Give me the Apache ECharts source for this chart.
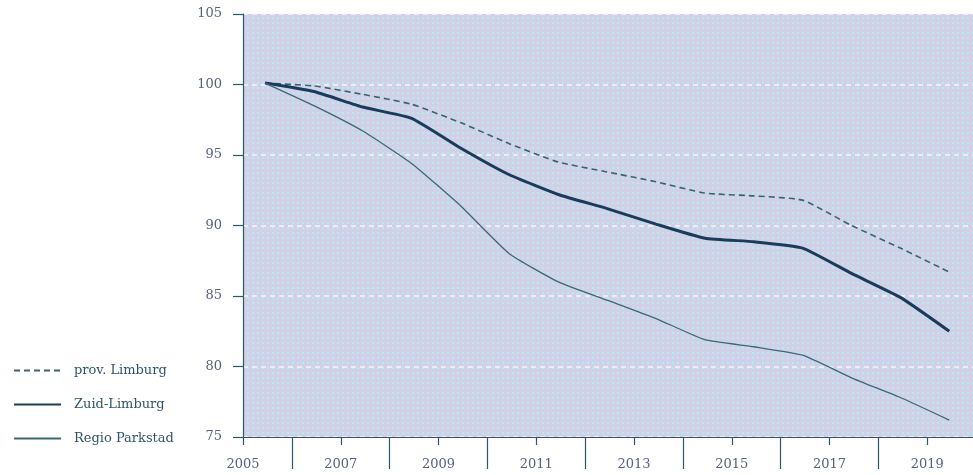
<!DOCTYPE html>
<html>
<head>
<meta charset="utf-8">
<script src="https://cdn.jsdelivr.net/npm/echarts@6/dist/echarts.min.js"></script>
<style>
html,body{margin:0;padding:0;background:#fff;}
#chart{width:973px;height:475px;}
</style>
</head>
<body>
<div id="chart"></div>
<script>
// Data
const years = [2005,2006,2007,2008,2009,2010,2011,2012,2013,2014,2015,2016,2017,2018,2019];
const provLimburg   = [100.1,99.9,99.3,98.6,97.3,95.8,94.5,93.8,93.1,92.3,92.1,91.8,90.0,88.4,86.7];
const zuidLimburg   = [100.1,99.5,98.4,97.6,95.5,93.6,92.2,91.2,90.1,89.1,88.85,88.4,86.6,84.9,82.5];
const regioParkstad = [100.1,98.5,96.7,94.4,91.4,88.0,86.0,84.7,83.4,81.9,81.4,80.8,79.2,77.8,76.2];
const seriesNames = ['prov. Limburg','Zuid-Limburg','Regio Parkstad'];
const yTicks = [75,80,85,90,95,100,105];

// values are mid-year observations
const MID = 0.45;
function pts(vals){ return years.map((y,i)=>[y+MID, vals[i]]); }

// dotted background pattern
const tile = document.createElement('canvas');
tile.width = 5; tile.height = 5;
const tc = tile.getContext('2d');
tc.fillStyle = '#d2d0e8'; tc.fillRect(0,0,5,5);
tc.fillStyle = '#b6ecec'; tc.fillRect(2,2,2,2);

const chart = echarts.init(document.getElementById('chart'), null, {renderer:'canvas'});
const font = 'DejaVu Serif';
chart.setOption({
  animation:false,
  grid:{left:243, top:14, right:-52, bottom:38, show:true, borderWidth:0,
        outerBoundsMode:'none', containLabel:false,
        backgroundColor:{image:tile, repeat:'repeat'}},
  legend:{
    orient:'vertical', left:8, top:359, itemWidth:47, itemHeight:14, itemGap:21,
    data:seriesNames,
    itemStyle:{opacity:0},
    textStyle:{color:'#2f5568', fontFamily:font, fontSize:13, padding:[0,0,0,8]}
  },
  xAxis:{
    type:'value', min:2005, max:2021, interval:2,
    axisLine:{show:true, lineStyle:{color:'#2e5868', width:1.2}},
    axisTick:{show:true, length:8, lineStyle:{color:'#2e5868', width:1.2}},
    minorTick:{show:true, splitNumber:2, length:32, lineStyle:{color:'#2e5868', width:1.2}},
    splitLine:{show:false},
    axisLabel:{color:'#56627e', fontFamily:font, fontSize:13, margin:21, formatter:v=>String(v)}
  },
  yAxis:{
    type:'value', min:yTicks[0], max:yTicks[yTicks.length-1], interval:5,
    axisLine:{show:true, lineStyle:{color:'#2e5868', width:1.2}},
    axisTick:{show:true, length:10, lineStyle:{color:'#2e5868', width:1.2}},
    splitLine:{show:true, lineStyle:{color:'#f6f6fc', width:1.5, type:[5,4]}},
    axisLabel:{color:'#56627e', fontFamily:font, fontSize:13, margin:21}
  },
  series:[
    {name:seriesNames[0], type:'line', data:pts(provLimburg), symbol:'none', smooth:0.15,
     lineStyle:{color:'#3a6276', width:1.6, type:[6,4]}, itemStyle:{color:'#3a6276'}},
    {name:seriesNames[1], type:'line', data:pts(zuidLimburg), symbol:'none', smooth:0.15,
     lineStyle:{color:'#1b3b5a', width:3}, itemStyle:{color:'#1b3b5a'}},
    {name:seriesNames[2], type:'line', data:pts(regioParkstad), symbol:'none', smooth:0.15,
     lineStyle:{color:'#3a6878', width:1.3}, itemStyle:{color:'#3a6878'}}
  ]
});
</script>
</body>
</html>
